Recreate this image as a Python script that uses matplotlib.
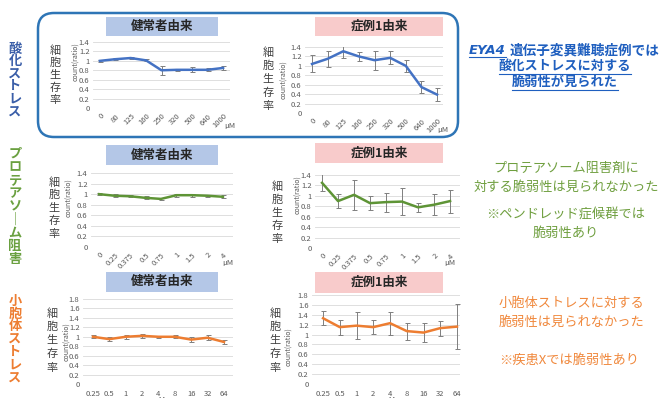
import matplotlib
matplotlib.use('Agg')
import matplotlib.pyplot as plt
from matplotlib.patches import FancyBboxPatch, Rectangle
from matplotlib.ticker import FuncFormatter, MultipleLocator

plt.rcParams['font.family'] = ['Noto Sans CJK JP', 'DejaVu Sans']

# cell viability count(ratio), mean and error bar half-width
ox_doses = ['0', '80', '125', '160', '250', '320', '500', '640', '1000']
ox_ctrl = [1.00, 1.035, 1.06, 1.01, 0.80, 0.81, 0.81, 0.81, 0.85]
ox_ctrl_err = [0.02, 0.02, 0.015, 0.02, 0.09, 0.02, 0.05, 0.03, 0.05]
ox_case = [1.04, 1.15, 1.31, 1.20, 1.12, 1.17, 1.00, 0.55, 0.39]
ox_case_err = [0.18, 0.17, 0.15, 0.10, 0.20, 0.14, 0.12, 0.12, 0.14]

pi_doses = ['0', '0.25', '0.375', '0.5', '0.75', '1', '1.5', '2', '4']
pi_ctrl = [1.00, 0.97, 0.96, 0.93, 0.91, 0.98, 0.98, 0.97, 0.95]
pi_ctrl_err = [0.02, 0.03, 0.02, 0.03, 0.02, 0.03, 0.03, 0.02, 0.03]
pi_case = [1.25, 0.90, 1.02, 0.86, 0.88, 0.89, 0.78, 0.83, 0.90]
pi_case_err = [0.165, 0.14, 0.29, 0.13, 0.18, 0.26, 0.09, 0.20, 0.22]

er_doses = ['0.25', '0.5', '1', '2', '4', '8', '16', '32', '64']
er_ctrl = [1.00, 0.95, 1.00, 1.02, 1.00, 1.00, 0.94, 0.98, 0.89]
er_ctrl_err = [0.03, 0.04, 0.04, 0.04, 0.02, 0.03, 0.05, 0.05, 0.04]
er_case = [1.33, 1.15, 1.18, 1.15, 1.23, 1.07, 1.04, 1.13, 1.16]
er_case_err = [0.14, 0.15, 0.27, 0.14, 0.23, 0.17, 0.20, 0.15, 0.46]

ctrl_title = '健常者由来'
case_title = '症例1由来'
y_label = '細胞生存率'

BLUE = '#4472c4'
GREEN = '#5e9436'
ORANGE = '#ed7d31'
GREY_TXT = '#595959'

W, H = 662, 398
fig = plt.figure(figsize=(W / 100, H / 100), dpi=100)

# background layer in pixel units (origin top-left)
bg = fig.add_axes([0, 0, 1, 1], zorder=0)
bg.set_xlim(0, W)
bg.set_ylim(H, 0)
bg.axis('off')


def px_axes(x0, y0, x1, y1):
    return fig.add_axes([x0 / W, 1 - y1 / H, (x1 - x0) / W, (y1 - y0) / H],
                        zorder=1)


def vtext(s, x, y0, step, **kw):
    # stack characters top to bottom; long vowel mark becomes a vertical bar
    for i, c in enumerate(s):
        if c == 'ー':
            c = '｜'
        bg.text(x, y0 + i * step, c, ha='center', va='center', **kw)


def title_box(x0, y0, x1, y1, text, color):
    bg.add_patch(Rectangle((x0, y0), x1 - x0, y1 - y0, color=color, lw=0))
    bg.text((x0 + x1) / 2, (y0 + y1) / 2, text, ha='center', va='center',
            fontsize=9, fontweight='bold', color='#262626')


def panel(box, xlim, ymax, doses, vals, errs, color, rotate):
    ax = px_axes(*box)
    ax.set_facecolor('none')
    x = range(len(doses))
    ax.errorbar(x, vals, yerr=errs, color=color, lw=1.8,
                ecolor='#7f7f7f', elinewidth=0.7, capsize=1.8,
                capthick=0.7, zorder=3)
    ax.set_xlim(*xlim)
    ax.set_ylim(0, ymax)
    ax.yaxis.set_major_locator(MultipleLocator(0.2))
    ax.yaxis.set_major_formatter(FuncFormatter(lambda v, p: '%g' % round(v, 1)))
    ax.grid(axis='y', color='#d9d9d9', lw=0.6, zorder=0)
    ax.set_axisbelow(True)
    for s in ax.spines.values():
        s.set_visible(False)
    ax.tick_params(length=0, labelsize=5.5, labelcolor=GREY_TXT)
    ax.tick_params(axis='y', pad=2.5)
    ax.set_xticks(list(x))
    if rotate:
        ax.set_xticklabels(doses, rotation=45, ha='right', va='top',
                           rotation_mode='anchor')
        ax.tick_params(axis='x', pad=3)
    else:
        ax.set_xticklabels(doses)
        ax.tick_params(axis='x', pad=4)
    return ax


# rounded frame around the oxidative stress row
bg.add_patch(FancyBboxPatch((38, 13), 420, 124,
                            boxstyle='round,pad=0,rounding_size=16',
                            fc='none', ec='#2e75b6', lw=1.8))

# row labels
vtext('酸化ストレス', 15, 48.5, 12.6, fontsize=9.5, fontweight='bold',
      color='#3a5ea8')
vtext('プロテアソーム阻害', 15, 154, 13.1, fontsize=9.5, fontweight='bold',
      color='#6aa040')
vtext('小胞体ストレス', 15, 301, 12.7, fontsize=9.5, fontweight='bold',
      color=ORANGE)

# panel titles
title_box(106, 17, 218, 36, ctrl_title, '#b4c7e7')
title_box(315, 17, 443, 36, case_title, '#f8cbcb')
title_box(106, 145, 218, 165, ctrl_title, '#b4c7e7')
title_box(315, 143, 443, 163, case_title, '#f8cbcb')
title_box(106, 272, 218, 292, ctrl_title, '#b4c7e7')
title_box(315, 272, 443, 293, case_title, '#f8cbcb')

panels = [
    ((93, 42, 230, 108), (-0.45, 8.45), 1.4, ox_doses, ox_ctrl, ox_ctrl_err,
     BLUE, True, (55, 50, 12.5), (75, 62), (230, 126)),
    ((305, 47, 443, 113), (-0.45, 8.38), 1.4, ox_doses, ox_case, ox_case_err,
     BLUE, True, (268, 52, 13.6), (283, 80), (443, 130)),
    ((91, 173, 233, 247), (-0.52, 8.65), 1.4, pi_doses, pi_ctrl, pi_ctrl_err,
     GREEN, True, (54, 182, 13), (68, 198), (228, 263)),
    ((315, 175, 460, 248), (-0.44, 8.62), 1.4, pi_doses, pi_case, pi_case_err,
     GREEN, True, (277, 186, 13.3), (297, 195), (450, 263)),
    ((83, 299, 233, 384), (-0.61, 8.55), 1.8, er_doses, er_ctrl, er_ctrl_err,
     ORANGE, False, (52, 313, 13.75), (66, 342), (160, 400)),
    ((312, 295, 460, 384), (-0.66, 8.18), 1.8, er_doses, er_case, er_case_err,
     ORANGE, False, (275, 313, 13.75), (288, 347), (390, 400)),
]

for box, xl, ym, d, v, e, col, rot, (lx, ly, ls), (cx, cy), (ux, uy) in panels:
    panel(box, xl, ym, d, v, e, col, rot)
    vtext(y_label, lx, ly, ls, fontsize=8, color='#404040')
    bg.text(cx, cy, 'count(ratio)', rotation=90, ha='center', va='center',
            fontsize=5, color=GREY_TXT)
    bg.text(ux, uy, 'μM', ha='center', va='center', fontsize=5.5,
            color=GREY_TXT)

# conclusions on the right
NOTE_BLUE = '#1f5fbf'
eya = bg.text(469, 50, 'EYA4', ha='left', va='center', fontsize=9.5,
              fontweight='bold', fontstyle='italic', color=NOTE_BLUE,
              family=['DejaVu Sans'])
l2 = bg.text(565, 66, '酸化ストレスに対する', ha='center', va='center',
             fontsize=9.5, fontweight='bold', color=NOTE_BLUE)
l3 = bg.text(565, 82, '脆弱性が見られた', ha='center', va='center',
             fontsize=9.5, fontweight='bold', color=NOTE_BLUE)

fig.canvas.draw()
renderer = fig.canvas.get_renderer()
inv = bg.transData.inverted()


def extent(t):
    bb = t.get_window_extent(renderer)
    (a, b), (c, d) = inv.transform([[bb.x0, bb.y0], [bb.x1, bb.y1]])
    return a, c, max(b, d)


ex0, ex1, ey = extent(eya)
bg.text(ex1 + 4, 50, '遺伝子変異難聴症例では', ha='left', va='center',
        fontsize=9.8, fontweight='bold', color=NOTE_BLUE)
bg.plot([ex0, ex1], [ey + 0.5, ey + 0.5], color=NOTE_BLUE, lw=0.8)
for t in (l2, l3):
    a, c, yb = extent(t)
    bg.plot([a, c], [yb + 0.5, yb + 0.5], color=NOTE_BLUE, lw=0.8)

NOTE_GREEN = '#6f9f3f'
for txt, y in [('プロテアソーム阻害剤に', 168),
               ('対する脆弱性は見られなかった', 187),
               ('※ペンドレッド症候群では', 215),
               ('脆弱性あり', 233)]:
    bg.text(566, y, txt, ha='center', va='center', fontsize=9.5,
            color=NOTE_GREEN)

NOTE_ORANGE = '#f0883c'
for txt, y in [('小胞体ストレスに対する', 303),
               ('脆弱性は見られなかった', 322),
               ('※疾患Xでは脆弱性あり', 360)]:
    bg.text(499, y, txt, ha='left', va='center', fontsize=9.5,
            color=NOTE_ORANGE)

fig.savefig('out.png', dpi=100)
